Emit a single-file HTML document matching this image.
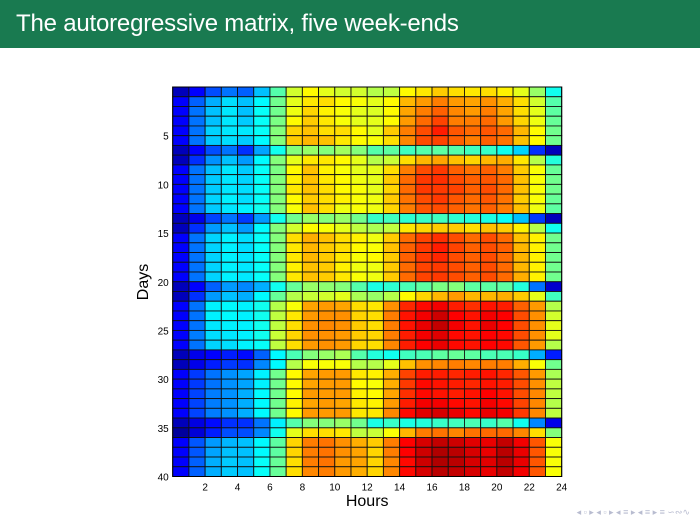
<!DOCTYPE html>
<html><head><meta charset="utf-8"><style>
body{margin:0;width:700px;height:525px;background:#fff;overflow:hidden;font-family:"Liberation Sans",sans-serif}
#bar{position:absolute;left:0;top:0;width:700px;height:48px;background:#197a50}
#bar span{position:absolute;left:16px;top:10px;color:#fff;font-size:24px;letter-spacing:-0.2px}
</style></head><body>
<div id="bar"><span>The autoregressive matrix, five week-ends</span></div>
<svg id="chart" width="700" height="525" style="position:absolute;left:0;top:0"></svg>
<script>
const hours=[1,2,3,4,5,6,7,8,9,10,11,12,13,14,15,16,17,18,19,20,21,22,23,24];
const xTicks=[2,4,6,8,10,12,14,16,18,20,22,24];
const yTicks=[5,10,15,20,25,30,35,40];
const values=[
[0.3,1,1.8,2.2,2,3,4.5,5.8,6.3,6,5.8,5.8,5.5,5.6,6.3,6.5,6.8,6.6,6.5,6.6,6.4,6,5.2,3.8],
[1,2,2.8,3.3,3,3.6,4.8,6,6.5,6.6,6.3,6.2,6,6.3,7,7.3,7.6,7.3,7.2,7.4,7.1,6.6,5.8,4.5],
[1,2.2,3,3.4,3,3.7,4.8,6.1,6.7,6.4,6.2,6,5.9,6.3,7.2,7.6,7.9,7.5,7.3,7.6,7.2,6.6,6,4.6],
[1,2.2,3,3.4,3.1,3.7,4.9,6.3,6.8,6.5,6.2,6,6,6.3,7.3,7.8,8.2,7.6,7.6,7.8,7.3,6.7,6.1,4.7],
[1,2.2,3.2,3.4,3.4,3.7,5,6.7,6.9,6.6,6.6,6.3,6,6.8,7.6,8.1,8.6,8,7.8,8,7.8,7,6.3,4.8],
[1,2.2,3.1,3.3,3.1,3.6,5,6.8,7,6.9,6.5,6.3,6.2,6.6,7.5,8.1,8.2,7.9,7.6,7.9,7.7,6.9,6.3,4.8],
[0.3,1,1.8,2.2,1.5,2.7,3.8,5,5.2,5,5.3,5,4.5,4.6,4.3,4.5,4.6,4.5,4.3,4.2,3.8,3.2,1.5,0.3],
[0.3,1.5,2.5,3,2.6,3.6,5,6,6.5,6.5,6.3,6,5.5,5.7,6.6,7,7.2,6.9,6.7,7,7.1,6.5,5.5,4],
[1,2.2,3,3.4,3.1,3.7,4.9,6.3,6.9,6.4,6.2,6,6,6.6,7.6,8.1,8.3,7.9,7.7,7.9,7.6,6.8,6.2,4.7],
[1,2.2,3.1,3.4,3.2,3.7,5,6.4,6.9,6.5,6.3,6.1,6,6.8,7.8,8.3,8.4,8.1,7.9,8,7.8,6.9,6.2,4.8],
[1,2.2,3.1,3.4,3.3,3.7,5,6.5,6.9,6.6,6.3,6.2,6,6.7,7.8,8.3,8.3,8.2,7.9,8.1,7.8,6.9,6.2,4.8],
[1,2.2,3.2,3.5,3.3,3.7,5,6.3,6.8,6.6,6.4,6.2,6.1,6.8,7.7,8.1,8.3,8,7.8,8,7.7,6.8,6.2,4.7],
[1,2.2,3.1,3.4,3.5,3.8,5,6.2,6.9,6.6,6.1,6.2,6.1,6.7,7.6,8,8.1,7.9,7.7,7.9,7.6,6.9,6.1,4.6],
[0.3,0.8,1.7,2.2,1.6,2.6,3.8,4.8,5.2,5,5.2,4.8,4.2,4.3,4.1,4.2,4.3,4.1,4,3.9,3.7,3,1.6,0.3],
[0.3,1.5,2.6,3,2.6,3.6,5,5.8,6.3,6.2,6,5.6,5.4,5.6,6.5,6.7,6.8,6.8,6.6,6.9,6.8,6.4,5.5,3.8],
[1,2.2,3.2,3.5,3.3,3.7,5,6.6,7.1,6.9,6.6,6.4,6.1,6.8,7.8,8.2,8.4,8.1,7.8,8.1,7.8,6.9,6.4,4.8],
[1,2.2,3.2,3.5,3.3,3.7,5,6.5,7,6.8,6.6,6.3,6.2,6.9,7.9,8.3,8.6,8.2,7.9,8.1,7.9,7,6.4,4.8],
[1,2.2,3.2,3.5,3.4,3.7,5,6.5,7,6.8,6.5,6.2,6.3,6.8,7.9,8.3,8.5,8.1,7.9,8.1,7.8,7,6.4,4.8],
[1,2.2,3.2,3.5,3.4,3.7,5,6.4,6.9,6.8,6.4,6.1,6.1,6.8,7.8,8.2,8.3,8.1,7.9,8.1,7.8,7,6.4,4.8],
[1,2.2,3.2,3.5,3.4,3.7,5,6.5,6.9,6.8,6.5,6.2,6.1,6.8,7.8,8.2,8.3,8.1,7.9,8.1,7.8,7.1,6.4,4.8],
[0.3,1,2,2.6,2.4,2.8,3.8,4.7,5.2,5.1,5,4.5,3.9,4.1,4.4,4.6,4.9,5,4.6,4.6,4.6,4,2.2,0.5],
[0.3,1.5,2.6,3,2.8,3.6,4.7,5.5,5.7,5.8,6,5.4,5.2,5.5,6.3,6.7,7,7.3,7,7,7.1,6.8,6,4.3],
[1,2.2,3.5,3.6,3.5,3.8,5.5,6.2,7.2,7.3,7.2,6.6,6.5,7.4,8.5,8.8,9,8.6,8.4,8.7,8.6,7.9,7.3,5.5],
[1,2.2,3.5,3.6,3.5,3.8,5.6,6.5,7.3,7.4,7.4,6.7,6.6,7.6,8.7,9,9.4,8.9,8.7,9,8.9,8.1,7.4,5.8],
[1,2.2,3.4,3.5,3.5,3.8,5.6,6.6,7.4,7.5,7.4,6.8,6.6,7.6,8.7,9.1,9.5,9,8.7,9.1,8.9,8.1,7.4,6],
[1,2.3,3.3,3.4,3.5,3.8,5.7,6.7,7.4,7.4,7.3,6.8,6.7,7.6,8.6,9,9.2,8.8,8.7,8.9,8.8,8.1,7.4,6],
[1,2.2,3.2,3.3,3.5,3.7,5.6,6.6,7.3,7.4,7.3,6.7,6.6,7.5,8.6,8.9,9.1,8.8,8.7,8.9,8.8,8,7.3,5.5],
[0.3,0.8,1,1.3,1.1,2,3.6,4.4,5,5.2,5.4,4.5,4,3.8,4.3,4.4,4.6,4.7,4.6,4.4,4.4,4.2,2.8,1.3],
[0.3,0.8,1.3,1.6,1.5,2.4,3.6,5.5,6.2,6.2,6.2,5.5,5.5,6,6.9,7.4,7.5,7.6,7.5,7.6,7.6,7.1,6.2,4.8],
[1,1.6,2.2,2.5,2.7,3.5,4.8,6.3,7.2,7.3,7.3,6.5,6.4,7.1,8.2,8.6,8.6,8.5,8.6,8.7,8.5,8,7.3,5.4],
[1,1.6,2.2,2.5,2.7,3.5,4.8,6.3,7.2,7.3,7.3,6.3,6.2,7.1,8.3,8.8,8.7,8.6,8.5,8.7,8.6,8.1,7.4,5.6],
[1,1.7,2.3,2.5,2.8,3.6,4.8,6.3,7.3,7.3,7.3,6.4,6.3,7.2,8.4,8.8,8.7,8.6,8.7,8.9,8.7,8.1,7.5,5.6],
[1,1.7,2.3,2.5,2.8,3.6,4.8,6.4,7.2,7.3,7.2,6.5,6.4,7.3,8.6,9,9,8.8,8.7,9,8.8,8.2,7.5,5.5],
[1,1.7,2.3,2.5,2.8,3.6,4.8,6.3,7.3,7.3,7.3,6.5,6.5,7.5,8.8,9.2,9.3,9.1,8.8,9.1,9,8.3,7.5,5.6],
[0.3,0.7,1.1,1.5,1.5,2.2,3.5,4.5,5,5,5.2,4.8,3.9,4.2,3.9,4,4.2,4.3,4.4,4.2,4.5,3.8,2.4,0.8],
[0,0.6,1.3,1.8,1.8,2.4,3.8,6,6.6,6.6,6.5,5.6,5.7,6.2,7,7.6,7.7,7.5,7.7,7.8,7.8,7.5,6.6,5],
[1,1.9,2.6,2.9,3,3.6,4.6,6.7,7.6,7.7,7.4,7.1,6.8,7.6,8.9,9.3,9.5,9.4,9.2,9.1,9.5,9,8,6.2],
[1,1.9,2.7,3,3,3.6,4.6,6.7,7.6,7.7,7.4,7.2,6.7,7.6,8.9,9.4,9.7,9.6,9.3,9.1,9.6,9.1,8,6.2],
[1,2,2.8,3.1,3,3.7,4.7,6.6,7.6,7.7,7.3,7.2,6.7,7.5,8.8,9.4,9.7,9.6,9.3,9.2,9.6,9.1,8,6.2],
[1,2,2.8,3.1,3,3.7,4.7,6.6,7.5,7.6,7.3,7.1,6.7,7.5,8.8,9.3,9.6,9.5,9.3,9.1,9.5,9,8,6.2]
];
const L=172.7,R=561.7,T=87,B=476.5,vmin=-0.3,vmax=10.2;
const nC=hours.length,nR=values.length;
const cw=(R-L)/nC,rh=(B-T)/nR;
function xPos(k){return L+k*cw;}
function yPos(k){return T+k*rh;}
function jet(v){let t=(v-vmin)/(vmax-vmin);t=Math.max(0,Math.min(1,t));
 const f=c=>Math.round(255*Math.max(0,Math.min(1,1.5-Math.abs(4*t-c))));
 return `rgb(${f(3)},${f(2)},${f(1)})`;}
const svg=document.getElementById('chart');const NS='http://www.w3.org/2000/svg';
function mk(tag,attrs,txt){const e=document.createElementNS(NS,tag);for(const k in attrs)e.setAttribute(k,attrs[k]);if(txt!==undefined)e.textContent=txt;svg.appendChild(e);return e;}
values.forEach((row,r)=>row.forEach((v,c)=>{
 const e=mk('rect',{x:xPos(c),y:yPos(r),width:cw,height:rh,fill:jet(v),stroke:'#111','stroke-width':0.9});
 
 
}));
const fr=mk('rect',{x:L,y:T,width:R-L,height:B-T,fill:'none',stroke:'#000','stroke-width':1});


xTicks.forEach(t=>{const e=mk('text',{x:xPos(t),y:B+14,'font-size':10,'text-anchor':'middle',fill:'#000'},t);
 
 });
yTicks.forEach(t=>{const e=mk('text',{x:L-4,y:yPos(t)+4,'font-size':10,'text-anchor':'end',fill:'#000'},t);
 
 });
const xt=mk('text',{x:(L+R)/2,y:506,'font-size':16,'text-anchor':'middle',fill:'#000'},'Hours');


const yt=mk('text',{x:148,y:282,'font-size':16,'text-anchor':'middle',fill:'#000',transform:'rotate(-90 148 282)'},'Days');


const nav=mk('text',{x:690,y:515,'font-size':9,'text-anchor':'end',fill:'#b8bcd0'},'◂ ▫ ▸ ◂ ▫ ▸ ◂ ≡ ▸ ◂ ≡ ▸   ≡   ∽∾∿');


</script>
</body></html>
